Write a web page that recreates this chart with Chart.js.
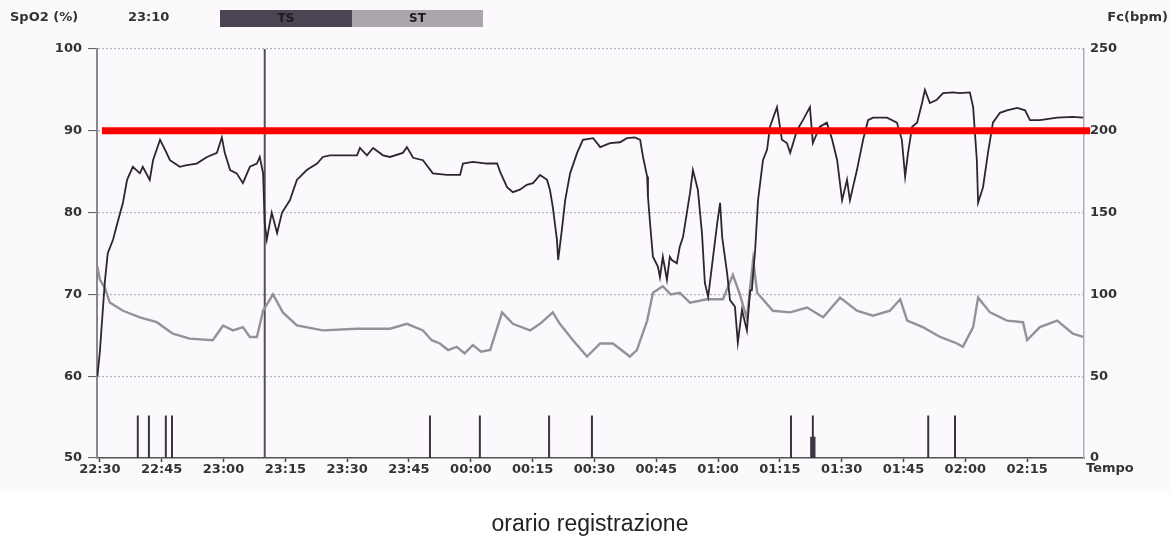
<!DOCTYPE html>
<html>
<head>
<meta charset="utf-8">
<script src="https://cdn.jsdelivr.net/npm/chart.js@4/dist/chart.umd.min.js"></script>
<style>
  html,body{margin:0;padding:0;background:#fff;}
  body{width:1170px;height:537px;position:relative;overflow:hidden;font-family:"Liberation Sans",Arial,sans-serif;}
  #bg{position:absolute;left:0;top:0;width:1170px;height:492px;background:#fcf9fd;}
  #wrap{position:absolute;left:0;top:0;width:1170px;height:537px;}
  .t{position:absolute;font-family:"DejaVu Sans",sans-serif;font-weight:bold;font-size:13px;color:#333;white-space:nowrap;}
  #bar{position:absolute;left:220px;top:10px;width:263px;height:17px;display:flex;}
  #bar div{height:17px;line-height:17px;text-align:center;font-family:"DejaVu Sans",sans-serif;font-weight:bold;font-size:12px;color:#1a1a1a;}
  #cap{position:absolute;left:0;width:1180px;top:510px;text-align:center;font-size:23px;color:#222;}
</style>
</head>
<body>
<div id="bg"></div>
<div id="wrap"><canvas id="c" width="1170" height="537"></canvas></div>
<div class="t" style="left:10px;top:9px;">SpO2 (%)</div>
<div class="t" id="cursorTxt" style="left:128px;top:9px;"></div>
<div id="bar"><div style="width:132px;background:#4b4553;">TS</div><div style="width:131px;background:#aaa6ac;">ST</div></div>
<div class="t" style="right:2px;top:9px;">Fc(bpm)</div>
<div class="t" style="left:1086px;top:460px;">Tempo</div>
<div id="cap">orario registrazione</div>
<script>
// ---- data (time = minutes after 22:30) ----
const tickLabels = ["22:30","22:45","23:00","23:15","23:30","23:45","00:00","00:15","00:30","00:45","01:00","01:15","01:30","01:45","02:00","02:15"];
const cursorTime = 40;
const cursorLabel = "23:10";
const thresholdSpO2 = 90;

const spo2Time = [-0.6,0,0.7,1.2,1.9,3.2,4.4,5.6,6.6,8.0,9.7,10.4,12.1,12.9,14.6,15.8,17.0,19.4,21.1,23.5,26.0,28.4,29.6,30.3,31.6,33.2,34.7,36.4,38.1,38.8,39.6,40.0,40.5,41.7,43.0,44.2,46.1,47.8,50.2,52.7,54.1,55.8,62.4,63.1,64.8,66.3,68.7,70.4,73.5,74.5,76.0,78.4,80.8,84.2,87.4,88.1,90.5,93.9,96.4,97.1,98.8,100.2,101.9,103.6,105.1,106.8,108.5,109.2,109.9,110.9,111.2,112.1,112.9,114.1,115.8,117.2,119.7,121.4,123.8,126.2,127.9,129.8,131.1,131.8,132.8,133.0,133.5,134.2,135.4,135.9,136.6,137.6,138.3,138.8,140.0,140.7,141.5,143.2,143.9,145.1,146.1,146.8,147.6,148.5,149.8,150.5,151.0,152.2,152.9,154.1,154.8,155.8,157.0,157.8,158.2,159.0,159.7,160.9,161.9,162.6,164.3,165.5,166.7,167.5,169.2,170.6,172.3,173.0,174.7,176.4,177.7,178.9,180.1,181.3,182.0,183.7,185.2,186.4,187.6,191.0,193.4,194.6,195.4,196.1,197.1,198.3,199.5,200.2,201.4,203.1,204.6,207.0,208.7,211.1,211.9,212.8,213.1,214.3,215.5,216.7,218.4,220.1,222.6,224.5,225.7,228.1,232.3,236.1,238.6];
const spo2Values = [60,63,68,71.5,75,76.7,79,81.2,84,85.6,84.8,85.6,84,86.4,88.9,87.7,86.4,85.6,85.8,86,86.8,87.3,89.2,87.3,85.2,84.8,83.6,85.6,86,86.8,84.8,78.7,76.7,80,77.5,80,81.5,84,85.2,86,86.8,87,87,87.9,87,87.9,87,86.8,87.3,88,86.7,86.4,84.8,84.6,84.6,86,86.2,86,86,85,83.1,82.5,82.8,83.4,83.6,84.6,84,82.8,80.7,76.7,74.2,77.9,81.5,84.8,87.3,88.9,89.1,88,88.5,88.6,89.1,89.2,88.9,86.8,84.4,81.9,78.7,74.6,73.4,72.1,74.6,71.8,74.6,74.2,73.8,75.8,77,82.4,85.2,82.8,77.5,71.4,69.7,73.4,78.7,81.2,77,72.6,69.3,68.5,64.1,68.1,65.6,70.5,70.5,75.4,81.5,86.4,87.7,90.5,92.9,88.9,88.5,87.3,90.1,91.3,92.9,88.5,90.5,91,88.9,86.4,81.5,84,81.5,85.2,88.9,91.3,91.6,91.6,91,88.9,84.4,87.3,90.5,91,93.4,95,93.4,93.8,94.6,94.7,94.6,94.7,92.9,86.4,81.2,83.1,87.3,91,92.2,92.5,92.8,92.5,91.3,91.3,91.6,91.7,91.6];

const fcTime = [-0.6,0,1.2,2.4,5.6,9.7,13.8,17.7,21.8,27.4,29.9,32.3,34.7,36.4,38.1,39.6,42.0,44.4,47.8,54.1,62.4,70.4,74.5,78.4,80.5,82.5,84.5,86.6,88.5,90.5,92.5,94.7,97.6,100.2,104.4,106.8,109.9,111.6,114.8,118.2,121.4,124.5,128.6,130.3,132.8,134.2,136.6,138.5,140.7,143.2,147.3,151.2,153.6,155.3,157.0,158.5,159.5,163.3,167.5,171.6,175.5,179.6,183.7,187.6,191.7,194.2,195.9,199.7,203.9,208.0,209.4,211.9,213.1,216.0,220.1,224.0,225.0,228.1,232.3,236.1,238.6];
const fcValues = [117,109,104,95,90,86,83,76,73,72,81,78,80,74,74,90,100,89,81,78,79,79,82,78,72,70,66,68,64,69,65,66,89,82,78,82,89,82,72,62,70,70,62,66,84,101,105,100,101,95,97,97,112,100,85,121,101,90,89,92,86,98,90,87,90,97,84,80,74,70,68,80,98,89,84,83,72,80,84,76,74];

const eventTimes = [9.2,11.9,16.0,17.5,80.1,92.2,109.0,119.4,167.7,172.6,173.0,173.4,201.0,207.5];
const eventHeights = [26,26,26,26,26,26,26,26,26,13,26,13,26,26];

// ---- build ----
document.getElementById('cursorTxt').textContent = cursorLabel;
const spo2Data = spo2Time.map((t,i)=>({x:t,y:spo2Values[i]}));
const fcData = fcTime.map((t,i)=>({x:t,y:fcValues[i]}));
const evData = [];
eventTimes.forEach((t,i)=>{evData.push({x:t,y:0},{x:t,y:eventHeights[i]},{x:t,y:null});});
const fnt = {family:'"DejaVu Sans", sans-serif', size:13, weight:'bold'};

new Chart(document.getElementById('c'), {
  type:'line',
  data:{datasets:[
    {label:'soglia', data:[{x:0.5,y:thresholdSpO2},{x:240.3,y:thresholdSpO2}], yAxisID:'y', borderColor:'#ff0000', borderWidth:7, pointRadius:0, clip:false},
    {label:'SpO2', data:spo2Data, yAxisID:'y', borderColor:'#2b2631', borderWidth:1.8, pointRadius:0, tension:0},
    {label:'Fc', data:fcData, yAxisID:'y2', borderColor:'#95919b', borderWidth:2.4, pointRadius:0, tension:0},
    {label:'eventi', data:evData, yAxisID:'y2', borderColor:'#3a3540', borderWidth:2, pointRadius:0, spanGaps:false},
    {label:'cursore', data:[{x:cursorTime,y:0},{x:cursorTime,y:250}], yAxisID:'y2', borderColor:'#555058', borderWidth:2, pointRadius:0}
  ]},
  options:{
    responsive:false, animation:false, devicePixelRatio:1,
    layout:{padding:{top:49,left:0,right:0,bottom:0}},
    plugins:{legend:{display:false}, tooltip:{enabled:false}},
    scales:{
      x:{type:'linear', min:-0.7, max:238.8, position:'bottom',
        afterBuildTicks:s=>{s.ticks = tickLabels.map((l,i)=>({value:i*15}));},
        afterFit:s=>{s.height = 79;},
        ticks:{callback:v=>tickLabels[Math.round(v/15)], font:fnt, color:'#333', padding:0, maxRotation:0, autoSkip:false},
        grid:{drawOnChartArea:false, drawTicks:true, tickLength:4, tickColor:'#444', tickWidth:1.5},
        border:{display:true, color:'#555', width:1.5}
      },
      y:{position:'left', min:50, max:100,
        afterBuildTicks:s=>{s.ticks=[50,60,70,80,90,100].map(v=>({value:v}));},
        afterFit:s=>{s.width = 97;},
        ticks:{font:fnt, color:'#333', padding:6},
        grid:{color:'#b5b2b8', lineWidth:1.2, drawTicks:true, tickLength:9, tickColor:'#555', tickWidth:1},
        border:{display:true, color:'#8a868e', width:2, dash:[2,2]}
      },
      y2:{position:'right', min:0, max:250,
        afterBuildTicks:s=>{s.ticks=[0,50,100,150,200,250].map(v=>({value:v}));},
        afterFit:s=>{s.width = 86;},
        ticks:{font:fnt, color:'#333', padding:6},
        grid:{drawOnChartArea:false, drawTicks:false},
        border:{display:true, color:'#b0adb3', width:1.5}
      }
    }
  }
});
</script>
</body>
</html>
